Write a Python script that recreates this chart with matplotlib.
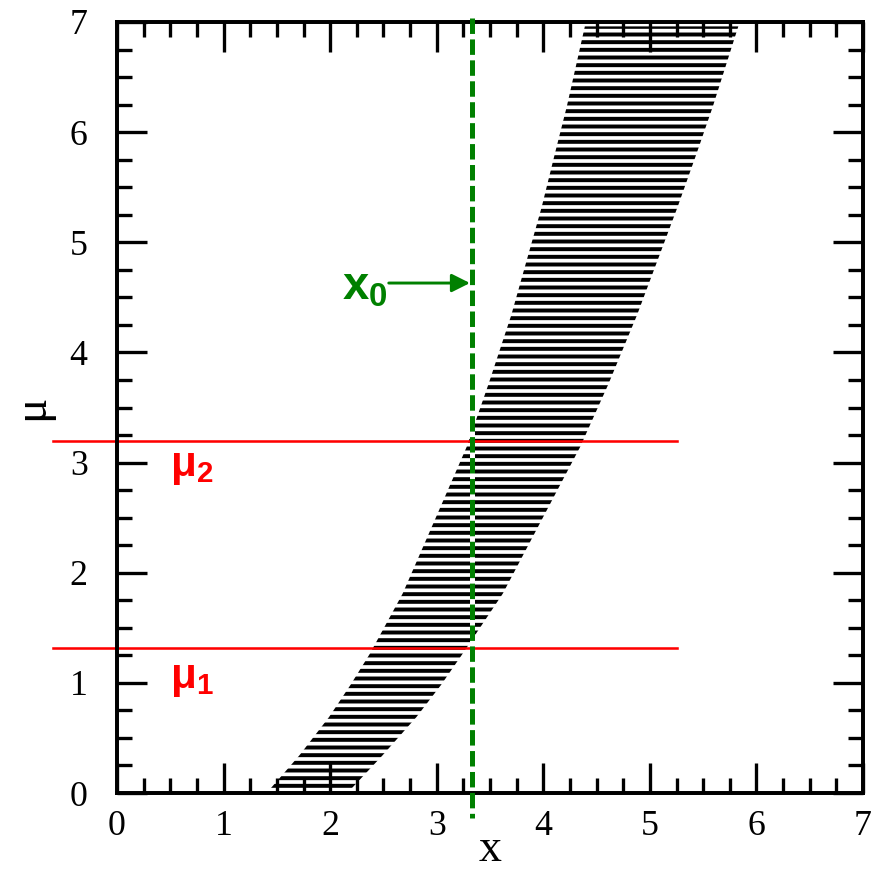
import matplotlib.pyplot as plt
from matplotlib.ticker import MultipleLocator

# edges of the hatched band (mu, left x, right x)
mu_edge = [0.04, 0.34, 0.69, 0.98, 1.26, 1.81, 3.14, 3.71, 4.34, 5.32, 5.81, 6.23, 6.96]
x_left = [1.44, 1.71, 1.99, 2.19, 2.37, 2.68, 3.28, 3.485, 3.70, 3.985, 4.11, 4.22, 4.39]
x_right = [2.20, 2.49, 2.81, 3.04, 3.24, 3.62, 4.345, 4.61, 4.88, 5.26, 5.44, 5.59, 5.83]

# red levels mu_1, mu_2
mu_levels = [1.32, 3.2]
mu_names = [r'$\mathbf{μ_1}$', r'$\mathbf{μ_2}$']
mu_label_y = [0.955, 2.88]
red_x = [-0.6, 5.25]

# green x0 line
x0 = 3.333
x0_span = [7.04, -0.23]

ticks = [0, 1, 2, 3, 4, 5, 6, 7]

plt.rcParams['font.family'] = 'serif'
plt.rcParams['font.serif'] = ['Liberation Serif']
plt.rcParams['mathtext.fontset'] = 'custom'
plt.rcParams['mathtext.bf'] = 'Liberation Sans:bold'
plt.rcParams['hatch.linewidth'] = 3.1

DPI = 92
fig = plt.figure(figsize=(876 / DPI, 874 / DPI), dpi=DPI)
ax = fig.add_axes([117 / 876, 81 / 874, 746 / 876, 771 / 874])

# band drawn as horizontal hatching
ax.fill_betweenx(mu_edge, x_left, x_right, facecolor='none', edgecolor='black',
                 linewidth=0, hatch='--', zorder=1)

# red levels
for m, name, ly in zip(mu_levels, mu_names, mu_label_y):
    ax.plot(red_x, [m, m], color='red', lw=2.0, clip_on=False, zorder=2)
    ax.text(0.50, ly, name, color='red', fontsize=33, ha='left', va='baseline')

# x0: white backing so the gaps cut through the hatching, then the dashes
ax.plot([x0, x0], x0_span, color='white', lw=3.9, zorder=2.2)
ax.plot([x0, x0], x0_span, color='#008000', lw=3.9, ls=(0, (3.1, 1.1)),
        clip_on=False, zorder=3)
ax.annotate('', xy=(3.312, 4.63), xytext=(2.55, 4.63),
            arrowprops=dict(arrowstyle='-|>,head_length=0.6,head_width=0.3',
                            color='#008000', lw=2.3, shrinkA=0, shrinkB=0,
                            mutation_scale=20))
ax.text(2.11, 4.48, r'$\mathbf{x_0}$', color='#008000', fontsize=37,
        ha='left', va='baseline')

ax.set_xlim(0, 7)
ax.set_ylim(0, 7)
ax.set_xticks(ticks)
ax.set_yticks(ticks)
ax.xaxis.set_minor_locator(MultipleLocator(0.25))
ax.yaxis.set_minor_locator(MultipleLocator(0.25))
ax.tick_params(which='both', direction='in', top=True, right=True, width=2.6)
ax.tick_params(which='major', length=23.5, labelsize=28)
ax.tick_params(which='minor', length=11.7)
ax.tick_params(axis='x', pad=13)
ax.tick_params(axis='y', pad=23)
for s in ax.spines.values():
    s.set_linewidth(3.1)

ax.set_xlabel('x', fontsize=36, va='baseline')
ax.xaxis.set_label_coords(0.5, -0.088)
ax.set_ylabel('μ', fontsize=37)
ax.yaxis.set_label_coords(-0.0858, 0.5)

fig.savefig('out.png', dpi=DPI)
